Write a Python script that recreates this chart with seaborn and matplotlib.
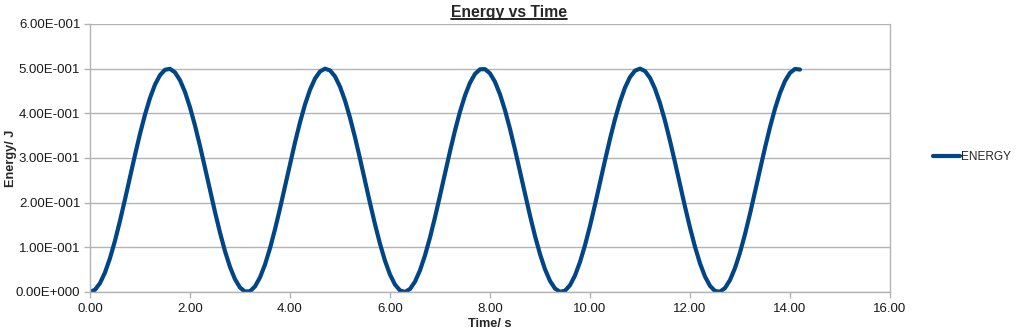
import numpy as np
import pandas as pd
import matplotlib
matplotlib.use("Agg")
import matplotlib.pyplot as plt
import seaborn as sns
from matplotlib.lines import Line2D
from matplotlib.ticker import FuncFormatter, MultipleLocator

# ---- data ----
time_s = np.round(np.arange(0, 143) * 0.1, 1)
energy = [
    0.00000, 0.00498, 0.01974, 0.04367, 0.07582, 0.11492, 0.15941, 0.20751,
    0.25730, 0.30680, 0.35404, 0.39712, 0.43435, 0.46422, 0.48556, 0.49750,
    0.49957, 0.49170, 0.47419, 0.44774, 0.41341, 0.37257, 0.32683, 0.27804,
    0.22812, 0.17908, 0.13287, 0.09133, 0.05611, 0.02862, 0.00996, 0.00086,
    0.00170, 0.01244, 0.03265, 0.06153, 0.09791, 0.14037, 0.18719, 0.23651,
    0.28638, 0.33479, 0.37982, 0.41968, 0.45277, 0.47778, 0.49371, 0.49992,
    0.49617, 0.48261, 0.45977, 0.42857, 0.39025, 0.34633, 0.29858, 0.24889,
    0.19925, 0.15163, 0.10793, 0.06989, 0.03904, 0.01659, 0.00345,
    0.00014, 0.00679, 0.02314, 0.04853, 0.08195, 0.12207, 0.16729, 0.21581,
    0.26570, 0.31495, 0.36162, 0.40384, 0.43992, 0.46843, 0.48824, 0.49854,
    0.49894, 0.48942, 0.47035, 0.44249, 0.40696, 0.36517, 0.31879, 0.26967,
    0.21977, 0.17107, 0.12551, 0.08492, 0.05091, 0.02484, 0.00775, 0.00031,
    0.00282, 0.01520, 0.03693, 0.06715, 0.10467, 0.14798, 0.19536, 0.24491,
    0.29467, 0.34265, 0.38693, 0.42576, 0.45758, 0.48112, 0.49545, 0.49999,
    0.49457, 0.47940, 0.45508, 0.42258, 0.38321, 0.33852, 0.29031, 0.24049,
    0.19105, 0.14396, 0.10109, 0.06416, 0.03465, 0.01371, 0.00220,
    0.00057, 0.00888, 0.02680, 0.05362, 0.08827, 0.12937, 0.17528, 0.22416,
    0.27408, 0.32303, 0.36908, 0.41038, 0.44528, 0.47240, 0.49065, 0.49931,
    0.49803,
]
series_name = "ENERGY"
title = "Energy vs Time"
x_label = "Time/ s"
y_label = "Energy/ J"

df = pd.DataFrame({"t": time_s, "E": energy, "series": series_name})

# ---- style ----
sns.set_theme(style="white")
plt.rcParams["font.family"] = ["Liberation Sans", "DejaVu Sans"]

W, H = 1025, 333
fig = plt.figure(figsize=(W / 100, H / 100), dpi=100)
ax = fig.add_axes([90 / W, 1 - 292 / H, 800 / W, 268 / H])

line_color = "#004586"
sns.lineplot(data=df, x="t", y="E", hue="series", palette=[line_color],
             ax=ax, linewidth=3.0, legend=False, sort=False)
for ln in ax.get_lines():
    ln.set_solid_capstyle("round")
    ln.set_solid_joinstyle("round")

ax.set_xlim(0, 16)
ax.set_ylim(0, 0.6)
ax.xaxis.set_major_locator(MultipleLocator(2))
ax.yaxis.set_major_locator(MultipleLocator(0.1))


def sci_fmt(v, pos):
    if abs(v) < 1e-12:
        return "0.00E+000"
    exp = int(np.floor(np.log10(abs(v)) + 1e-9))
    mant = v / 10 ** exp
    sign = "-" if exp < 0 else "+"
    return f"{mant:.2f}E{sign}{abs(exp):03d}"


ax.yaxis.set_major_formatter(FuncFormatter(sci_fmt))
ax.xaxis.set_major_formatter(FuncFormatter(lambda v, p: f"{v:.2f}"))

grid_c = "#b3b3b3"
ax.grid(axis="y", color=grid_c, linewidth=1.0)
ax.set_axisbelow(True)
for side in ["left", "bottom", "right"]:
    ax.spines[side].set_visible(True)
    ax.spines[side].set_color(grid_c)
    ax.spines[side].set_linewidth(1.0)
ax.spines["top"].set_visible(False)

ax.tick_params(axis="both", which="major", direction="out", length=4,
               width=1.0, color=grid_c, labelsize=9.5, labelcolor="#1a1a1a",
               left=True, bottom=True)
ax.tick_params(axis="x", pad=4)
ax.tick_params(axis="y", pad=3)

ax.set_xlabel(x_label, fontsize=9.2, fontweight="bold")
ax.set_ylabel(y_label, fontsize=9.2, fontweight="bold")
ax.xaxis.set_label_coords(0.5, -(318 - 292) / 268)
ax.yaxis.set_label_coords((17 - 90) / 800, 0.5)

t = fig.text(509 / W, 1 - 12 / H, title, ha="center", va="center",
             fontsize=11.3, fontweight="bold")

handle = Line2D([0], [0], color=line_color, linewidth=3.0,
                solid_capstyle="round")
fig.legend([handle], [series_name], loc="center left",
           bbox_to_anchor=(933 / W, 1 - 157 / H), frameon=False,
           fontsize=8.5, handlelength=2.3, handletextpad=0.05,
           borderpad=0, borderaxespad=0)

# underline title
fig.canvas.draw()
bb = t.get_window_extent()
uy = bb.y0 + 0.5
fig.add_artist(Line2D([bb.x0 / W, bb.x1 / W], [uy / H, uy / H],
                      transform=fig.transFigure, color="black", linewidth=1.2))

fig.savefig("out.png", dpi=100)
